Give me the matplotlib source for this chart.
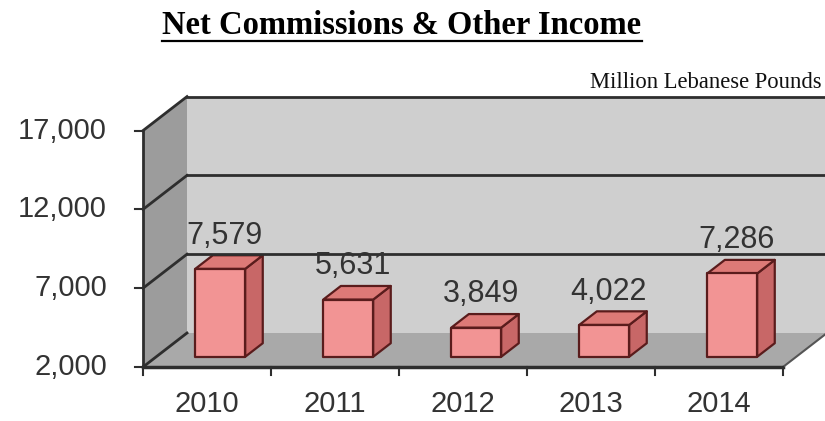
import matplotlib.pyplot as plt
from matplotlib.patches import Polygon
import numpy as np

years = ['2010', '2011', '2012', '2013', '2014']
income = [7579, 5631, 3849, 4022, 7286]
yticks = [2000, 7000, 12000, 17000]

W, H = 825, 421
fig = plt.figure(figsize=(W/100, H/100), dpi=100)
ax = fig.add_axes([0, 0, 1, 1])
ax.axis('off')

# pixel layout of the front plane: category edge -0.5 at x=143, value 2000 at y=367
ppc = 128.0
ppv = 78.8/5000
x_left = -0.5 - 143/ppc
x_right = -0.5 + (W - 143)/ppc
y_bot = 2000 - (H - 367)/ppv
y_top = 2000 + 367/ppv
ax.set_xlim(x_left, x_right)
ax.set_ylim(y_bot, y_top)

DX = 44/ppc   # depth shift
DY = 34/ppv
vmin, vmax = yticks[0], yticks[-1]
n = len(years)
x0, x1 = -0.5, n - 0.5

def proj(x, v, d):
    return (x + d*DX, v + d*DY)

grid_c = '#2e2e2e'
txt_c = '#333333'

# walls and floor
back = [proj(x0, vmin, 1), proj(x1, vmin, 1), proj(x1, vmax, 1), proj(x0, vmax, 1)]
side = [proj(x0, vmin, 0), proj(x0, vmin, 1), proj(x0, vmax, 1), proj(x0, vmax, 0)]
floor = [proj(x0, vmin, 0), proj(x1, vmin, 0), proj(x1, vmin, 1), proj(x0, vmin, 1)]
ax.add_patch(Polygon(back, closed=True, fc='#cfcfcf', ec='none'))
ax.add_patch(Polygon(side, closed=True, fc='#9c9c9c', ec='none'))
ax.add_patch(Polygon(floor, closed=True, fc='#a9a9a9', ec='none'))

for v in yticks:
    if v > vmin:
        p, q = proj(x0, v, 1), proj(x1, v, 1)
        ax.plot([p[0], q[0]], [p[1], q[1]], color=grid_c, lw=2)
    a, b = proj(x0, v, 0), proj(x0, v, 1)
    ax.plot([a[0], b[0]], [a[1], b[1]], color=grid_c, lw=2)
    # tick + label
    ax.plot([x0 - 8/ppc, x0], [v, v], color=grid_c, lw=1.5)
    ax.text(x0 - 36/ppc, v, f'{v:,}', ha='right', va='center',
            fontsize=21, color=txt_c, family='Liberation Sans')

# front axis lines
ax.plot([x0, x0], [vmin, vmax], color=grid_c, lw=2)
ax.plot([x0, x1], [vmin, vmin], color=grid_c, lw=2.5)
a, b = proj(x1, vmin, 0), proj(x1, vmin, 1)
ax.plot([a[0], b[0]], [a[1], b[1]], color='#555555', lw=1.5)

for k in range(n + 1):
    ax.plot([x0 + k, x0 + k], [vmin, vmin - 8/ppv], color=grid_c, lw=1.5)

# bars
hw = 0.195
d0, d1 = 0.3, 0.7
edge = '#5a1c1c'
for i, (yr, v) in enumerate(zip(years, income)):
    front = [proj(i-hw, vmin, d0), proj(i+hw, vmin, d0), proj(i+hw, v, d0), proj(i-hw, v, d0)]
    top = [proj(i-hw, v, d0), proj(i+hw, v, d0), proj(i+hw, v, d1), proj(i-hw, v, d1)]
    right = [proj(i+hw, vmin, d0), proj(i+hw, vmin, d1), proj(i+hw, v, d1), proj(i+hw, v, d0)]
    ax.add_patch(Polygon(right, closed=True, fc='#c86767', ec=edge, lw=1.6, joinstyle='round'))
    ax.add_patch(Polygon(top, closed=True, fc='#dd7a77', ec=edge, lw=1.6, joinstyle='round'))
    ax.add_patch(Polygon(front, closed=True, fc='#f29494', ec=edge, lw=1.6, joinstyle='round'))
    lx, ly = proj(i, v, 0.4)
    ax.annotate(f'{v:,}', (lx, ly), xytext=(0, 21.5), textcoords='offset points',
                ha='center', va='center', fontsize=22, color=txt_c,
                family='Liberation Sans')
    ax.text(i, vmin - 37/ppv, yr, ha='center', va='center', fontsize=21,
            color=txt_c, family='Liberation Sans')

# title with underline
title = fig.text(402/W, 1 - 25/H, 'Net Commissions & Other Income', ha='center', va='center',
                 fontsize=23.5, fontweight='bold', family='Liberation Serif', color='black')
fig.text(822/W, 1 - 82/H, 'Million Lebanese Pounds', ha='right', va='center',
         fontsize=16.3, family='Liberation Serif', color='#111111')
fig.canvas.draw()
bb = title.get_window_extent(renderer=fig.canvas.get_renderer()).transformed(fig.transFigure.inverted())
fig.add_artist(plt.Line2D([bb.x0, bb.x1], [1 - 41/H, 1 - 41/H], color='black', lw=1.6))

fig.savefig('out.png', dpi=100)
